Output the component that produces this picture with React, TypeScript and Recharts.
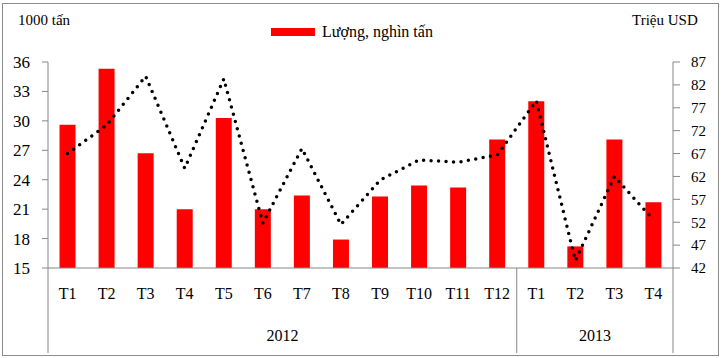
import React from "react";
import { ComposedChart, Bar, Line, XAxis, YAxis, Legend } from "recharts";

const months = ["T1", "T2", "T3", "T4", "T5", "T6", "T7", "T8", "T9", "T10", "T11", "T12", "T1", "T2", "T3", "T4"];
const years = ["2012", "2013"];
const monthsPerYear = [12, 4];
const volume = [29.6, 35.3, 26.7, 21.0, 30.3, 21.0, 22.4, 17.9, 22.3, 23.4, 23.2, 28.1, 32.0, 17.2, 28.1, 21.7];
const value = [67.0, 73.2, 83.9, 63.8, 83.3, 51.8, 68.1, 51.5, 61.2, 65.6, 65.1, 66.7, 78.5, 43.6, 62.0, 52.5];
const leftTicks = [15, 18, 21, 24, 27, 30, 33, 36];
const rightTicks = [42, 47, 52, 57, 62, 67, 72, 77, 82, 87];

const data = months.map((m, i) => ({ month: m, volume: volume[i], value: value[i] }));

const W = 723;
const H = 358;
const LEFT_W = 48;
const RIGHT_W = 50;
const AXIS_H = 90;
const FONT = "'Liberation Serif', 'Times New Roman', serif";
const AXIS_COLOR = "#868686";
const band = (W - LEFT_W - RIGHT_W) / months.length;

// start index of each year group, plus the end
const groupEdges = monthsPerYear.reduce<number[]>((acc, n) => [...acc, acc[acc.length - 1] + n], [0]);

function MonthTick(props: any) {
  const { x, y, payload } = props;
  const i = payload.index;
  const parts: React.ReactNode[] = [];
  parts.push(
    <text key="m" x={x} y={y + 31} textAnchor="middle" fontSize={16} fontFamily={FONT} fill="#000">
      {payload.value}
    </text>
  );
  groupEdges.forEach((edge, g) => {
    if (edge === i) {
      const lx = x - band / 2;
      parts.push(<line key={"s" + g} x1={lx} x2={lx} y1={y} y2={y + 85} stroke={AXIS_COLOR} />);
    }
    if (edge === i + 1 && g === groupEdges.length - 1) {
      const lx = x + band / 2;
      parts.push(<line key={"e" + g} x1={lx} x2={lx} y1={y} y2={y + 85} stroke={AXIS_COLOR} />);
    }
    if (g < years.length) {
      const mid = edge + monthsPerYear[g] / 2;
      if (Math.floor(mid) === i + (Number.isInteger(mid) ? 1 : 0)) {
        const cx = Number.isInteger(mid) ? x + band / 2 : x;
        parts.push(
          <text key={"y" + g} x={cx} y={y + 73} textAnchor="middle" fontSize={16} fontFamily={FONT} fill="#000">
            {years[g]}
          </text>
        );
      }
    }
  });
  return <g>{parts}</g>;
}

function LegendBox(props: any) {
  const items = (props.payload || []).filter((p: any) => p.type !== "none");
  return (
    <div style={{ display: "flex", alignItems: "center", fontFamily: FONT, fontSize: 16 }}>
      {items.map((p: any) => (
        <div key={p.value} style={{ display: "flex", alignItems: "center" }}>
          <span style={{ width: 44, height: 8, background: p.color, marginRight: 7 }} />
          <span style={{ color: "#000" }}>{p.value}</span>
        </div>
      ))}
    </div>
  );
}

export default function App() {
  return (
    <div style={{ position: "absolute", left: 0, top: 0, width: W, height: H, background: "#fff" }}>
      <div
        style={{
          position: "absolute",
          left: 2,
          top: 3,
          width: 715,
          height: 351,
          border: "1px solid #8c8c8c",
          pointerEvents: "none",
        }}
      />
      <div style={{ position: "absolute", left: 18, top: 12, fontFamily: FONT, fontSize: 15 }}>1000 tấn</div>
      <div style={{ position: "absolute", left: 632, top: 12, fontFamily: FONT, fontSize: 15 }}>Triệu USD</div>
      <ComposedChart width={W} height={H} data={data} margin={{ top: 62, right: 0, bottom: 0, left: 0 }} barCategoryGap="29.5%">
        <XAxis
          dataKey="month"
          height={AXIS_H}
          interval={0}
          tickLine={false}
          tickSize={0}
          tickMargin={0}
          stroke={AXIS_COLOR}
          tick={<MonthTick />}
        />
        <YAxis
          yAxisId="l"
          domain={[15, 36]}
          ticks={leftTicks}
          interval={0}
          width={LEFT_W}
          tickSize={6}
          tickMargin={12}
          stroke={AXIS_COLOR}
          tick={{ fill: "#000", fontSize: 17, fontFamily: FONT }}
        />
        <YAxis
          yAxisId="r"
          orientation="right"
          domain={[42, 87]}
          ticks={rightTicks}
          interval={0}
          width={RIGHT_W}
          tickSize={7}
          tickMargin={11}
          stroke={AXIS_COLOR}
          tick={{ fill: "#000", fontSize: 15, fontFamily: FONT, textAnchor: "start" }}
        />
        <Legend
          verticalAlign="middle"
          align="center"
          content={<LegendBox />}
          wrapperStyle={{ position: "absolute", top: 23, left: 271, width: "auto" }}
        />
        <Bar yAxisId="l" dataKey="volume" name="Lượng, nghìn tấn" fill="#ff0000" isAnimationActive={false} />
        <Line
          yAxisId="r"
          dataKey="value"
          name="Trị giá, triệu USD"
          type="linear"
          stroke="#000"
          strokeWidth={3.5}
          strokeDasharray="0 7.5"
          strokeLinecap="round"
          dot={false}
          activeDot={false}
          legendType="none"
          isAnimationActive={false}
        />
      </ComposedChart>
    </div>
  );
}
